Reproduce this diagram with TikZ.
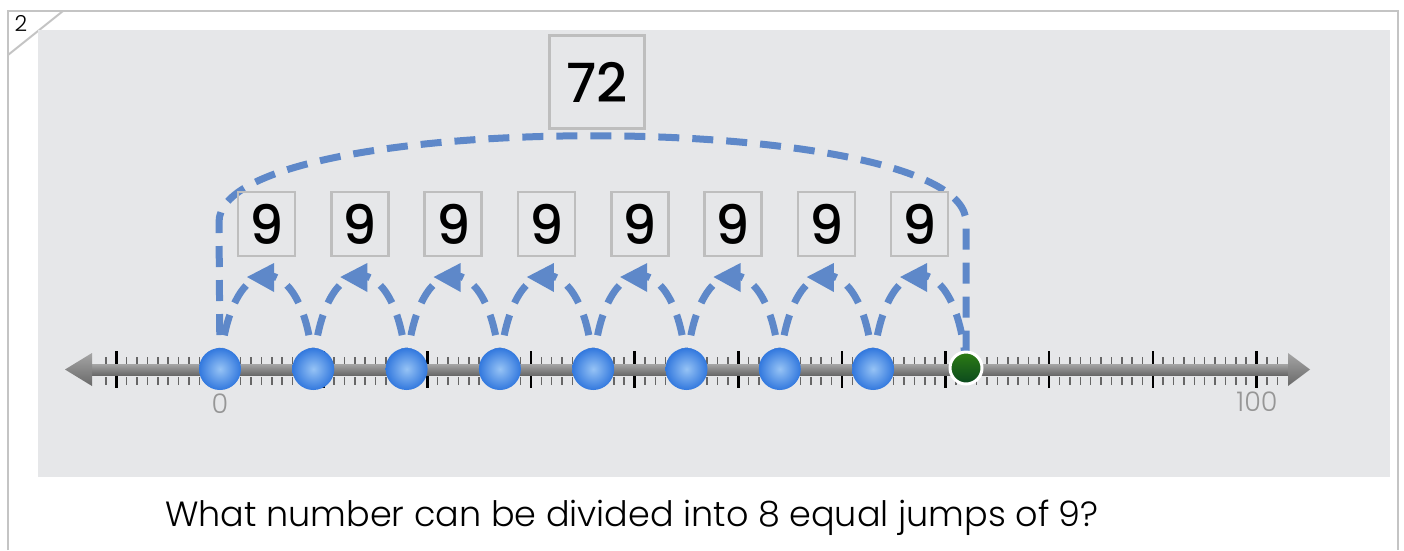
\documentclass[tikz,border=0pt]{standalone}
\usepackage{fontspec}
\setmainfont{Poppins}
\newfontfamily\thinfont{Poppins Light}
\newfontfamily\digitfont{Poppins Medium}
\usetikzlibrary{calc}
\usetikzlibrary{positioning}

\definecolor{jumpblue}{RGB}{94,136,201}
\definecolor{panelgray}{RGB}{230,231,233}
\definecolor{framegray}{RGB}{196,196,196}
\definecolor{boxgray}{RGB}{190,190,190}
\definecolor{labelgray}{RGB}{150,150,150}
\definecolor{dotlight}{RGB}{150,195,245}
\definecolor{dotdark}{RGB}{50,120,222}
\definecolor{greentop}{RGB}{45,125,20}
\definecolor{greenbot}{RGB}{10,72,30}
\definecolor{bartop}{RGB}{165,165,165}
\definecolor{barbot}{RGB}{105,105,105}

\tikzset{
  jump/.style={draw=jumpblue, line width=7pt, dash pattern=on 21pt off 13pt},
  numbox/.style={draw=boxgray, line width=2.5pt, minimum width=57pt, minimum height=64pt,
    inner sep=0pt, font=\digitfont\fontsize{54}{54}\selectfont},
  sumbox/.style={numbox, minimum width=95pt, minimum height=93pt},
  bluedot/.style={circle, minimum size=42pt, inner sep=0pt, inner color=dotlight, outer color=dotdark},
  greendot/.style={circle, minimum size=32pt, inner sep=0pt, draw=white, line width=3pt,
    top color=greentop, bottom color=greenbot},
  axislabel/.style={text=labelgray, font=\thinfont\fontsize{27}{27}\selectfont, inner sep=0pt},
  question/.style={font=\thinfont\fontsize{35}{35}\selectfont, inner sep=0pt, anchor=base}
}

\begin{document}
\begin{tikzpicture}[x=1pt, y=-1pt]
  \useasboundingbox (0,0) rectangle (1404,550);

  % Frame and panel
  \draw[framegray, line width=2pt] (8,550) -- (8,11) -- (1398,11) -- (1398,550);
  \draw[framegray, line width=2pt] (8,55) -- (63,11);
  \node[font=\thinfont\fontsize{22}{22}\selectfont, inner sep=0pt] (page) at (21,23) {2};
  \fill[panelgray] (38,30) rectangle (1390,477);

  % Ticks
  \foreach \v in {-11,...,102} {
    \draw[black!60, line width=1.5pt] ({220+10.365*\v},357) -- ++(0,8);
    \draw[black!60, line width=1.5pt] ({220+10.365*\v},377) -- ++(0,8);
  }
  \foreach \v in {-10,0,...,100} {
    \draw[black, line width=2.5pt] ({220+10.365*\v},351) -- ({220+10.365*\v},388);
  }

  % Number line
  \shade[top color=bartop, bottom color=barbot] (88,364) rectangle (1292,375);
  \shade[top color=bartop, bottom color=barbot] (65,369.5) -- (92,353) -- (92,386) -- cycle;
  \shade[top color=bartop, bottom color=barbot] (1310,369.5) -- (1288,353) -- (1288,386) -- cycle;

  % Labels
  \node[axislabel] (zero) at (220,404) {0};
  \node[axislabel] (hundred) at (1257,402) {100};

  % Dots
  \foreach \i in {0,...,7} {
    \coordinate (p\i) at ({220+93.3*\i},369);
  }
  \coordinate (p8) at (966,368);

  % Jumps of 9
  \foreach \i [evaluate=\i as \j using int(\i+1)] in {0,...,7} {
    \draw[jump] (p\i) .. controls +(8,-125) and +(-8,-125) .. (p\j);
    \fill[jumpblue] ({247+93.3*\i},277) -- ++(27,-14) -- ++(0,29) -- cycle;
  }

  % Whole jump
  \coordinate (bigL) at (219,222);
  \coordinate (bigR) at (966,222);
  \draw[jump] (p0) -- (bigL) .. controls +(0,-115) and +(0,-115) .. (bigR) -- (p8);

  \foreach \i in {0,...,7} {
    \node[bluedot] (d\i) at (p\i) {};
  }
  \node[greendot] (d8) at (p8) {};

  % Boxes
  \node[sumbox] (total) at (597,82) {72};
  \foreach \i in {1,...,8} {
    \node[numbox] (nine\i) at ({173.3+93.3*\i},224) {9};
  }

  % Question
  \node[question] (ask) at (632,526) {What number can be divided into 8 equal jumps of 9?};
\end{tikzpicture}
\end{document}
